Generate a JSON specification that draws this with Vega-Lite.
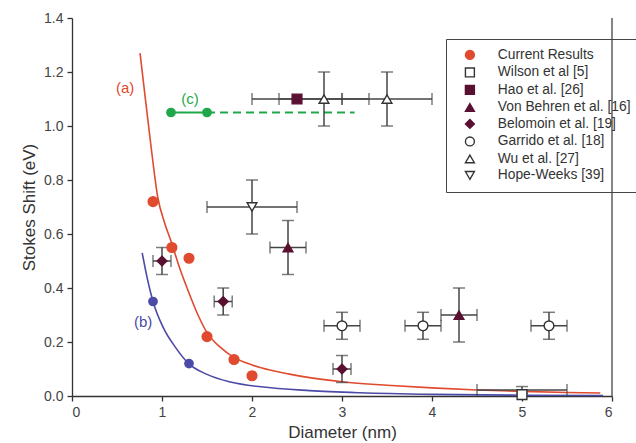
{
  "$schema": "https://vega.github.io/schema/vega-lite/v6.json",
  "width": 540,
  "height": 378,
  "autosize": "none",
  "padding": {"left": 72, "top": 18, "right": 24, "bottom": 47},
  "background": "white",
  "config": {
    "view": {"stroke": null},
    "font": "Liberation Sans",
    "axis": {"grid": false, "domainColor": "#333", "tickColor": "#333", "labelColor": "#444", "titleColor": "#333", "labelFontSize": 14, "titleFontSize": 17, "titleFontWeight": "normal", "tickSize": 5, "domainWidth": 1.3, "tickWidth": 1.3, "labelPadding": 4}
  },
  "layer": [
    {
      "data": {"values": [{"d": 6}]},
      "mark": {"type": "rule", "color": "#444", "strokeWidth": 1.3},
      "encoding": {"x": {"field": "d", "type": "quantitative", "title": "Diameter (nm)", "scale": {"domain": [0, 6]}, "axis": {"values": [0, 1, 2, 3, 4, 5, 6], "format": "d", "titlePadding": 5}}}
    },
    {
      "data": {"values": [
        {"d": 0.756, "s": 1.27}, {"d": 0.817, "s": 1.096}, {"d": 0.883, "s": 0.911}, {"d": 0.952, "s": 0.738},
        {"d": 1.03, "s": 0.64}, {"d": 1.107, "s": 0.567}, {"d": 1.2, "s": 0.47}, {"d": 1.29, "s": 0.39},
        {"d": 1.4, "s": 0.3}, {"d": 1.5, "s": 0.235}, {"d": 1.65, "s": 0.18}, {"d": 1.79, "s": 0.145},
        {"d": 2.0, "s": 0.115}, {"d": 2.2, "s": 0.096}, {"d": 2.4, "s": 0.082}, {"d": 2.64, "s": 0.068},
        {"d": 3.0, "s": 0.053}, {"d": 3.5, "s": 0.04}, {"d": 4.0, "s": 0.03}, {"d": 4.5, "s": 0.022},
        {"d": 5.0, "s": 0.017}, {"d": 5.5, "s": 0.013}, {"d": 5.87, "s": 0.011}
      ]},
      "mark": {"type": "line", "color": "#e04a2e", "strokeWidth": 1.6, "interpolate": "monotone"},
      "encoding": {
        "x": {"field": "d", "type": "quantitative", "title": "Diameter (nm)"},
        "y": {"field": "s", "type": "quantitative", "title": "Stokes Shift (eV)", "scale": {"domain": [0, 1.4]}, "axis": {"values": [0, 0.2, 0.4, 0.6, 0.8, 1.0, 1.2, 1.4], "format": ".1f", "titlePadding": 5}}
      }
    },
    {
      "data": {"values": [
        {"d": 0.78, "s": 0.53}, {"d": 0.84, "s": 0.43}, {"d": 0.9, "s": 0.35}, {"d": 1.01, "s": 0.256},
        {"d": 1.15, "s": 0.18}, {"d": 1.29, "s": 0.122}, {"d": 1.5, "s": 0.08}, {"d": 1.76, "s": 0.052},
        {"d": 2.1, "s": 0.034}, {"d": 2.64, "s": 0.02}, {"d": 3.2, "s": 0.012}, {"d": 4.0, "s": 0.006},
        {"d": 5.0, "s": 0.003}, {"d": 5.9, "s": 0.002}
      ]},
      "mark": {"type": "line", "color": "#4b4aa6", "strokeWidth": 1.6, "interpolate": "monotone"},
      "encoding": {"x": {"field": "d", "type": "quantitative", "title": "Diameter (nm)"}, "y": {"field": "s", "type": "quantitative", "title": "Stokes Shift (eV)"}}
    },
    {
      "data": {"values": [
        {"d": 1.1, "s": 1.05, "seg": "solid"}, {"d": 1.5, "s": 1.05, "seg": "solid"},
        {"d": 1.5, "s": 1.05, "seg": "dash"}, {"d": 3.14, "s": 1.05, "seg": "dash"}
      ]},
      "mark": {"type": "line", "color": "#1ea84a", "strokeWidth": 2},
      "encoding": {
        "x": {"field": "d", "type": "quantitative", "title": "Diameter (nm)"},
        "y": {"field": "s", "type": "quantitative", "title": "Stokes Shift (eV)"},
        "strokeDash": {"field": "seg", "type": "nominal", "scale": {"domain": ["solid", "dash"], "range": [[1, 0], [8, 5]]}, "legend": null}
      }
    },
    {
      "data": {"values": [
        {"lo": 4.5, "hi": 5.5, "s": 0.022}, {"lo": 2.0, "hi": 3.0, "s": 1.1}, {"lo": 2.3, "hi": 3.3, "s": 1.1},
        {"lo": 3.0, "hi": 4.0, "s": 1.1}, {"lo": 1.5, "hi": 2.5, "s": 0.7}, {"lo": 2.2, "hi": 2.6, "s": 0.55},
        {"lo": 4.1, "hi": 4.5, "s": 0.3}, {"lo": 0.9, "hi": 1.1, "s": 0.5}, {"lo": 1.58, "hi": 1.78, "s": 0.35},
        {"lo": 2.9, "hi": 3.1, "s": 0.1}, {"lo": 2.8, "hi": 3.2, "s": 0.26}, {"lo": 3.7, "hi": 4.1, "s": 0.26},
        {"lo": 5.1, "hi": 5.5, "s": 0.26}
      ]},
      "mark": {"type": "errorbar", "ticks": {"size": 12, "thickness": 1.5, "color": "#444"}, "thickness": 1.5, "color": "#444"},
      "encoding": {
        "x": {"field": "lo", "type": "quantitative", "title": "Diameter (nm)"},
        "x2": {"field": "hi"},
        "y": {"field": "s", "type": "quantitative", "title": "Stokes Shift (eV)"}
      }
    },
    {
      "data": {"values": [
        {"d": 5.0, "lo": 0.01, "hi": 0.035}, {"d": 2.8, "lo": 1.0, "hi": 1.2}, {"d": 3.5, "lo": 1.0, "hi": 1.2},
        {"d": 2.0, "lo": 0.6, "hi": 0.8}, {"d": 2.4, "lo": 0.45, "hi": 0.65}, {"d": 4.3, "lo": 0.2, "hi": 0.4},
        {"d": 1.0, "lo": 0.45, "hi": 0.55}, {"d": 1.68, "lo": 0.3, "hi": 0.4}, {"d": 3.0, "lo": 0.05, "hi": 0.15},
        {"d": 3.0, "lo": 0.21, "hi": 0.31}, {"d": 3.9, "lo": 0.21, "hi": 0.31}, {"d": 5.3, "lo": 0.21, "hi": 0.31}
      ]},
      "mark": {"type": "errorbar", "ticks": {"size": 12, "thickness": 1.5, "color": "#444"}, "thickness": 1.5, "color": "#444"},
      "encoding": {
        "x": {"field": "d", "type": "quantitative", "title": "Diameter (nm)"},
        "y": {"field": "lo", "type": "quantitative", "title": "Stokes Shift (eV)"},
        "y2": {"field": "hi"}
      }
    },
    {
      "data": {"values": [{"d": 1.1, "s": 1.05}, {"d": 1.5, "s": 1.05}]},
      "mark": {"type": "circle", "size": 95, "opacity": 1, "color": "#1ea84a"},
      "encoding": {
        "x": {"field": "d", "type": "quantitative", "title": "Diameter (nm)"},
        "y": {"field": "s", "type": "quantitative", "title": "Stokes Shift (eV)"}
      }
    },
    {
      "data": {"values": [{"d": 0.9, "s": 0.35}, {"d": 1.3, "s": 0.12}]},
      "mark": {"type": "circle", "size": 95, "opacity": 1, "color": "#4b4aa6"},
      "encoding": {
        "x": {"field": "d", "type": "quantitative", "title": "Diameter (nm)"},
        "y": {"field": "s", "type": "quantitative", "title": "Stokes Shift (eV)"}
      }
    },
    {
      "data": {"values": [
        {"d": 0.9, "s": 0.72, "series": "Current Results"}, {"d": 1.11, "s": 0.55, "series": "Current Results"},
        {"d": 1.3, "s": 0.51, "series": "Current Results"}, {"d": 1.5, "s": 0.22, "series": "Current Results"},
        {"d": 1.8, "s": 0.135, "series": "Current Results"}, {"d": 2.0, "s": 0.075, "series": "Current Results"},
        {"d": 5.0, "s": 0.005, "series": "Wilson et al [5]"},
        {"d": 2.5, "s": 1.1, "series": "Hao et al. [26]"},
        {"d": 2.4, "s": 0.55, "series": "Von Behren et al. [16]"}, {"d": 4.3, "s": 0.3, "series": "Von Behren et al. [16]"},
        {"d": 1.0, "s": 0.5, "series": "Belomoin et al. [19]"}, {"d": 1.68, "s": 0.35, "series": "Belomoin et al. [19]"},
        {"d": 3.0, "s": 0.1, "series": "Belomoin et al. [19]"},
        {"d": 3.0, "s": 0.26, "series": "Garrido et al. [18]"}, {"d": 3.9, "s": 0.26, "series": "Garrido et al. [18]"},
        {"d": 5.3, "s": 0.26, "series": "Garrido et al. [18]"},
        {"d": 2.8, "s": 1.1, "series": "Wu et al. [27]"}, {"d": 3.5, "s": 1.1, "series": "Wu et al. [27]"},
        {"d": 2.0, "s": 0.7, "series": "Hope-Weeks [39]"}
      ]},
      "mark": {"type": "point", "filled": true, "size": 95, "strokeWidth": 1.4, "opacity": 1},
      "encoding": {
        "x": {"field": "d", "type": "quantitative", "title": "Diameter (nm)"},
        "y": {"field": "s", "type": "quantitative", "title": "Stokes Shift (eV)"},
        "shape": {"field": "series", "type": "nominal", "title": null,
          "scale": {"domain": ["Current Results", "Wilson et al [5]", "Hao et al. [26]", "Von Behren et al. [16]", "Belomoin et al. [19]", "Garrido et al. [18]", "Wu et al. [27]", "Hope-Weeks [39]"],
                    "range": ["circle", "square", "square", "triangle-up", "diamond", "circle", "triangle-up", "triangle-down"]},
          "legend": {"orient": "none", "legendX": 374, "legendY": 21, "strokeColor": "#444", "padding": 9, "labelFontSize": 13.8, "labelColor": "#333", "rowPadding": 1.5, "symbolSize": 80, "symbolStrokeWidth": 1.4, "labelOffset": 21, "symbolOffset": 8, "labelLimit": 250}},
        "fill": {"field": "series", "type": "nominal", "title": null,
          "scale": {"domain": ["Current Results", "Wilson et al [5]", "Hao et al. [26]", "Von Behren et al. [16]", "Belomoin et al. [19]", "Garrido et al. [18]", "Wu et al. [27]", "Hope-Weeks [39]"],
                    "range": ["#e04a2e", "white", "#5a1030", "#5a1030", "#5a1030", "white", "white", "white"]},
          "legend": {"orient": "none", "legendX": 374, "legendY": 21, "strokeColor": "#444", "padding": 9, "labelFontSize": 13.8, "labelColor": "#333", "rowPadding": 1.5, "symbolSize": 80, "symbolStrokeWidth": 1.4, "labelOffset": 21, "symbolOffset": 8, "labelLimit": 250}},
        "stroke": {"field": "series", "type": "nominal", "title": null,
          "scale": {"domain": ["Current Results", "Wilson et al [5]", "Hao et al. [26]", "Von Behren et al. [16]", "Belomoin et al. [19]", "Garrido et al. [18]", "Wu et al. [27]", "Hope-Weeks [39]"],
                    "range": ["#e04a2e", "#333", "#5a1030", "#5a1030", "#5a1030", "#333", "#333", "#333"]},
          "legend": {"orient": "none", "legendX": 374, "legendY": 21, "strokeColor": "#444", "padding": 9, "labelFontSize": 13.8, "labelColor": "#333", "rowPadding": 1.5, "symbolSize": 80, "symbolStrokeWidth": 1.4, "labelOffset": 21, "symbolOffset": 8, "labelLimit": 250}}
      }
    },
    {
      "data": {"values": [{"d": 0.59, "s": 1.14, "t": "(a)"}]},
      "mark": {"type": "text", "fontSize": 15, "align": "center", "baseline": "middle", "color": "#e04a2e"},
      "encoding": {
        "x": {"field": "d", "type": "quantitative", "title": "Diameter (nm)"},
        "y": {"field": "s", "type": "quantitative", "title": "Stokes Shift (eV)"},
        "text": {"field": "t"}
      }
    },
    {
      "data": {"values": [{"d": 0.79, "s": 0.275, "t": "(b)"}]},
      "mark": {"type": "text", "fontSize": 15, "align": "center", "baseline": "middle", "color": "#4b4aa6"},
      "encoding": {
        "x": {"field": "d", "type": "quantitative", "title": "Diameter (nm)"},
        "y": {"field": "s", "type": "quantitative", "title": "Stokes Shift (eV)"},
        "text": {"field": "t"}
      }
    },
    {
      "data": {"values": [{"d": 1.31, "s": 1.1, "t": "(c)"}]},
      "mark": {"type": "text", "fontSize": 15, "align": "center", "baseline": "middle", "color": "#1ea84a"},
      "encoding": {
        "x": {"field": "d", "type": "quantitative", "title": "Diameter (nm)"},
        "y": {"field": "s", "type": "quantitative", "title": "Stokes Shift (eV)"},
        "text": {"field": "t"}
      }
    }
  ]
}
